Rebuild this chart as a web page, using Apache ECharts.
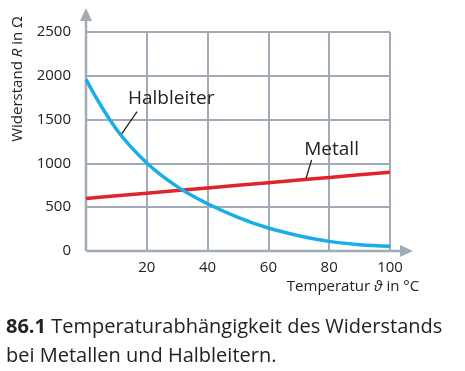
<!DOCTYPE html>
<html><head><meta charset="utf-8">
<script src="https://cdn.jsdelivr.net/npm/echarts@6/dist/echarts.min.js"></script>
<style>html,body{margin:0;padding:0;background:#fff}#c{width:465px;height:371px}</style>
</head><body><div id="c"></div>
<script>
const temps = [0, 10, 20, 30, 40, 50, 60, 70, 80, 90, 100];
const halbleiter = [1960, 1390, 1005, 735, 540, 385, 262, 175, 110, 72, 55];
const metall = [600, 630, 660, 690, 720, 750, 780, 810, 840, 870, 900];
const xTicks = [20, 40, 60, 80, 100];
const yTicks = [0, 500, 1000, 1500, 2000, 2500];
const seriesNames = ['Halbleiter', 'Metall'];
const yTitle = 'Widerstand {i|R} in Ω';
const xTitle = 'Temperatur {i|ϑ} in °C';
const caption = '{b|86.1} Temperaturabhängigkeit des Widerstands\nbei Metallen und Halbleitern.';

const FONT = 'Open Sans';
const GRID = '#a1abb7';
const TXT = '#222';
const chart = echarts.init(document.getElementById('c'), null, {renderer: 'canvas'});

chart.setOption({
  animation: false,
  textStyle: {fontFamily: FONT},
  grid: {left: 86, right: 75, top: 32, bottom: 120, containLabel: false},
  xAxis: {
    type: 'value', min: 0, max: xTicks[xTicks.length - 1], interval: 20,
    axisLine: {show: false}, axisTick: {show: false},
    axisLabel: {color: TXT, fontSize: 15, fontFamily: FONT, margin: 9,
      formatter: v => xTicks.includes(v) ? String(v) : ''},
    splitLine: {show: true, lineStyle: {color: GRID, width: 2}}
  },
  yAxis: {
    type: 'value', min: 0, max: yTicks[yTicks.length - 1], interval: 500,
    axisLine: {show: false}, axisTick: {show: false},
    axisLabel: {color: TXT, fontSize: 15, fontFamily: FONT, margin: 15,
      formatter: v => yTicks.includes(v) ? String(v) : ''},
    splitLine: {show: true, lineStyle: {color: GRID, width: 2}}
  },
  series: [
    {
      name: seriesNames[0], type: 'line', smooth: 0.4, symbol: 'none',
      data: temps.map((t, i) => [t, halbleiter[i]]),
      lineStyle: {color: '#18aee6', width: 3.5},
      z: 3,
      markLine: {
        silent: true, symbol: 'none', label: {show: false},
        lineStyle: {color: '#222', width: 1.3, type: 'solid'},
        data: [[{coord: [11.8, 1341]}, {coord: [16.8, 1590]}]]
      },
      markPoint: {
        symbol: 'circle', symbolSize: 0,
        label: {show: true, position: 'right', distance: 0, color: TXT, fontSize: 19, fontFamily: FONT, formatter: seriesNames[0]},
        data: [{coord: [13.8, 1740]}]
      }
    },
    {
      name: seriesNames[1], type: 'line', symbol: 'none',
      data: temps.map((t, i) => [t, metall[i]]),
      lineStyle: {color: '#e2232b', width: 3.5},
      z: 2,
      markLine: {
        silent: true, symbol: 'none', label: {show: false},
        lineStyle: {color: '#222', width: 1.3, type: 'solid'},
        data: [[{coord: [72.4, 830]}, {coord: [74.2, 1040]}]]
      },
      markPoint: {
        symbol: 'circle', symbolSize: 0,
        label: {show: true, position: 'right', distance: 0, color: TXT, fontSize: 19, fontFamily: FONT, formatter: seriesNames[1]},
        data: [{coord: [71.8, 1160]}]
      }
    }
  ]
});

const o = chart.convertToPixel({gridIndex: 0}, [0, 0]);
const xe = chart.convertToPixel({gridIndex: 0}, [100, 0]);
const ye = chart.convertToPixel({gridIndex: 0}, [0, 2500]);
const xTip = xe[0] + 23, yTip = ye[1] - 24;
const axisStyle = {stroke: GRID, lineWidth: 2.5};
chart.setOption({
  graphic: [
    {type: 'line', shape: {x1: o[0], y1: o[1], x2: xTip - 10, y2: o[1]}, style: axisStyle, z: 1},
    {type: 'polygon', shape: {points: [[xTip, o[1]], [xTip - 13, o[1] - 6], [xTip - 13, o[1] + 6]]}, style: {fill: GRID}, z: 1},
    {type: 'line', shape: {x1: o[0], y1: o[1], x2: o[0], y2: yTip + 10}, style: axisStyle, z: 1},
    {type: 'polygon', shape: {points: [[o[0], yTip], [o[0] - 6, yTip + 13], [o[0] + 6, yTip + 13]]}, style: {fill: GRID}, z: 1},
    {type: 'text', x: 18, y: 79, rotation: Math.PI / 2,
      style: {text: yTitle, fill: TXT, font: '15px "' + FONT + '"', align: 'center', verticalAlign: 'middle',
        rich: {i: {fontStyle: 'italic', fontSize: 15, fontFamily: FONT, fill: TXT}}}},
    {type: 'text', x: 353, y: 287,
      style: {text: xTitle, fill: TXT, font: '15px "' + FONT + '"', align: 'center', verticalAlign: 'middle',
        rich: {i: {fontStyle: 'italic', fontSize: 15, fontFamily: FONT, fill: TXT}}}},
    {type: 'text', x: 6, y: 313,
      style: {text: caption, fill: TXT, font: '20px "' + FONT + '"', lineHeight: 29,
        rich: {b: {fontWeight: 'bold', fontSize: 20, fontFamily: FONT, fill: TXT, lineHeight: 29}}}}
  ]
});
</script></body></html>
